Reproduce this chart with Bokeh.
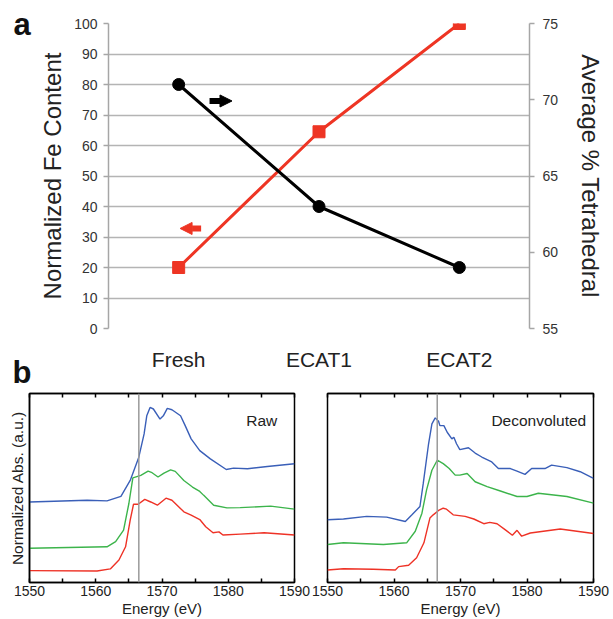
from bokeh.plotting import figure
from bokeh.models import Range1d, LinearAxis, FixedTicker, Label, Arrow, NormalHead, Span
from bokeh.layouts import column, row
from bokeh.embed import file_html
from bokeh.resources import INLINE

FONT = "Liberation Sans"

# ---------------- data: panel a ----------------
categories = ["Fresh", "ECAT1", "ECAT2"]
fe_content = [20, 64.5, 100]          # left axis, red squares
tetrahedral = [71, 63, 59]            # right axis, black circles
left_ticks = [0, 10, 20, 30, 40, 50, 60, 70, 80, 90, 100]
right_ticks = [55, 60, 65, 70, 75]

# ---------------- data: panel b (Raw) ----------------
raw_blue_e = [1550, 1558.7, 1561.7, 1563.8, 1565.2, 1566.5, 1567.3, 1567.7, 1568.2, 1568.7, 1569.7, 1570.2,
              1570.8, 1571.5, 1572.8, 1573.5, 1574.4, 1575.7, 1577.3, 1579.7, 1580.8, 1582.9, 1585.9, 1590]
raw_blue_v = [0.426, 0.435, 0.432, 0.456, 0.540, 0.663, 0.786, 0.882, 0.926, 0.918, 0.865, 0.882,
              0.921, 0.914, 0.882, 0.830, 0.760, 0.698, 0.654, 0.598, 0.605, 0.602, 0.614, 0.628]
raw_green_e = [1550, 1561.7, 1563.0, 1564.2, 1565.0, 1565.6, 1566.8, 1567.9, 1568.5, 1569.4, 1570.3,
               1571.3, 1572.0, 1573.3, 1574.6, 1575.7, 1576.3, 1577.8, 1579.8, 1581.8, 1586.4, 1590]
raw_green_v = [0.181, 0.189, 0.216, 0.277, 0.418, 0.554, 0.567, 0.589, 0.581, 0.558, 0.579,
               0.596, 0.588, 0.540, 0.505, 0.482, 0.461, 0.409, 0.395, 0.396, 0.404, 0.388]
raw_red_e = [1550, 1560.2, 1562.2, 1563.5, 1564.5, 1565.2, 1565.7, 1566.4, 1567.4, 1568.3, 1569.3, 1570.6,
             1571.5, 1573.3, 1574.4, 1575.7, 1576.6, 1577.7, 1578.6, 1579.2, 1581.8, 1585.4, 1590]
raw_red_v = [0.063, 0.061, 0.072, 0.119, 0.189, 0.330, 0.414, 0.414, 0.440, 0.426, 0.409, 0.446,
             0.435, 0.374, 0.356, 0.333, 0.295, 0.263, 0.268, 0.251, 0.256, 0.263, 0.251]

# ---------------- data: panel b (Deconvoluted) ----------------
dec_blue_e = [1550, 1552.4, 1555.9, 1558.9, 1561.7, 1562.7, 1563.9, 1564.4, 1565.2, 1565.7, 1566.2, 1566.7,
              1566.9, 1567.5, 1568.0, 1568.7, 1569.0, 1569.4, 1569.9, 1571.2, 1572.2, 1573.2, 1574.7, 1575.7,
              1577.5, 1578.5, 1579.7, 1580.7, 1582.7, 1583.7, 1586.0, 1588.0, 1590]
dec_blue_v = [0.332, 0.336, 0.350, 0.346, 0.323, 0.358, 0.402, 0.524, 0.734, 0.839, 0.871, 0.853,
              0.830, 0.830, 0.795, 0.760, 0.769, 0.734, 0.703, 0.713, 0.685, 0.664, 0.638, 0.603,
              0.603, 0.589, 0.572, 0.603, 0.603, 0.621, 0.608, 0.586, 0.551]
dec_green_e = [1550, 1552.4, 1558.4, 1561.9, 1563.2, 1564.2, 1564.9, 1565.7, 1566.5, 1567.4, 1568.3,
               1569.2, 1569.9, 1571.0, 1572.2, 1574.0, 1576.0, 1578.5, 1580.0, 1581.7, 1586.0, 1590]
dec_green_v = [0.201, 0.210, 0.201, 0.210, 0.271, 0.367, 0.490, 0.594, 0.647, 0.629, 0.603,
               0.568, 0.568, 0.577, 0.533, 0.507, 0.484, 0.455, 0.455, 0.472, 0.455, 0.420]
dec_red_e = [1550, 1552.4, 1556.9, 1560.2, 1560.7, 1562.2, 1563.4, 1564.5, 1565.4, 1565.9, 1566.7, 1567.4,
             1567.9, 1568.9, 1570.7, 1572.0, 1573.5, 1574.4, 1575.5, 1576.7, 1577.8, 1578.5, 1579.2,
             1580.5, 1585.0, 1590]
dec_red_v = [0.066, 0.073, 0.070, 0.066, 0.084, 0.091, 0.131, 0.210, 0.341, 0.358, 0.381, 0.393,
             0.388, 0.358, 0.350, 0.336, 0.311, 0.318, 0.311, 0.280, 0.250, 0.276, 0.245,
             0.262, 0.283, 0.259]

energy_ticks = [1550, 1560, 1570, 1580, 1590]
energy_minor = [1555, 1565, 1575, 1585]
edge_energy = 1566.5

RED = "#ee3524"
GRID = "#b4b4b4"
AXIS = "#a6a6a6"


def panel_letter(text, cx, cy, sx, sy):
    kw = dict(text=text, text_font=FONT, text_font_size="31px", text_font_style="bold",
              text_color="#111111", text_baseline="alphabetic")
    try:
        return Label(x=cx, y=cy, x_units="canvas", y_units="canvas", **kw)
    except Exception:
        return Label(x=sx, y=sy, x_units="screen", y_units="screen", **kw)


# ================= panel a (canvas also hosts the "b" letter below it) =================
xs = [i + 0.5 for i in range(len(categories))]
pa = figure(width=613, height=390, x_range=Range1d(0, 3), y_range=Range1d(0, 100),
            output_backend="svg", toolbar_location=None,
            min_border_left=105, min_border_right=84, min_border_top=23, min_border_bottom=62)
pa.extra_y_ranges = {"tet": Range1d(55, 75)}
pa.outline_line_color = None
pa.xgrid.visible = False
pa.ygrid.ticker = FixedTicker(ticks=left_ticks)
pa.ygrid.grid_line_color = GRID
pa.ygrid.grid_line_width = 1.4

xa = pa.xaxis[0]
xa.ticker = FixedTicker(ticks=xs)
xa.major_label_overrides = {x: c for x, c in zip(xs, categories)}
xa.axis_line_color = None
xa.major_tick_line_color = None
xa.minor_tick_line_color = None
xa.major_label_text_font = FONT
xa.major_label_text_font_size = "21px"
xa.major_label_text_color = "#222222"
xa.major_label_standoff = 13

ya = pa.yaxis[0]
ya.ticker = FixedTicker(ticks=left_ticks)
ya.axis_line_color = AXIS
ya.axis_line_width = 1.5
ya.major_tick_line_color = AXIS
ya.major_tick_line_width = 1.5
ya.major_tick_out = 5
ya.major_tick_in = 0
ya.minor_tick_line_color = None
ya.major_label_text_font = FONT
ya.major_label_text_font_size = "14px"
ya.major_label_text_color = "#333333"
ya.major_label_standoff = 6
ya.axis_label = "Normalized Fe Content"
ya.axis_label_text_font = FONT
ya.axis_label_text_font_style = "normal"
ya.axis_label_text_font_size = "24px"
ya.axis_label_text_color = "#222222"
ya.axis_label_standoff = 5

yr = LinearAxis(y_range_name="tet", ticker=FixedTicker(ticks=right_ticks))
yr.axis_line_color = AXIS
yr.axis_line_width = 1.5
yr.major_tick_line_color = AXIS
yr.major_tick_line_width = 1.5
yr.major_tick_out = 5
yr.major_tick_in = 0
yr.minor_tick_line_color = None
yr.major_label_text_font = FONT
yr.major_label_text_font_size = "14px"
yr.major_label_text_color = "#333333"
yr.major_label_standoff = 8
yr.axis_label = "Average % Tetrahedral"
yr.axis_label_text_font = FONT
yr.axis_label_text_font_style = "normal"
yr.axis_label_text_font_size = "24px"
yr.axis_label_text_color = "#222222"
yr.axis_label_standoff = 16
pa.add_layout(yr, "right")

pa.line(xs, fe_content, line_color=RED, line_width=3)
pa.line(xs, tetrahedral, y_range_name="tet", line_color="black", line_width=3)
pa.scatter(xs, fe_content, marker="square", size=12, fill_color=RED, line_color=RED)
pa.scatter(xs, tetrahedral, y_range_name="tet", marker="circle", size=12,
           fill_color="black", line_color="black")

pa.add_layout(Arrow(end=NormalHead(size=12, fill_color="black", line_color="black", line_width=1),
                    x_start=0.72, y_start=74.6, x_end=0.88, y_end=74.6,
                    line_color="black", line_width=6))
pa.add_layout(Arrow(end=NormalHead(size=12, fill_color=RED, line_color=RED, line_width=1),
                    x_start=0.66, y_start=32.8, x_end=0.51, y_end=32.8,
                    line_color=RED, line_width=6))

# panel letters live in a side panel so they are not clipped to the frame
pa.add_layout(panel_letter("a", 13, 24, -92, 304), "left")
pa.add_layout(panel_letter("b", 12, 372, -93, -44), "left")


# ================= panel b =================
def spectrum_panel(width, left_border, right_border, curves, tag, tag_x, with_ylabel):
    p = figure(width=width, height=229, x_range=Range1d(1550, 1590), y_range=Range1d(0, 1),
               output_backend="svg", toolbar_location=None,
               min_border_left=left_border, min_border_right=right_border,
               min_border_top=3, min_border_bottom=36)
    p.grid.visible = False
    p.outline_line_color = "black"
    p.outline_line_width = 1.5
    xa = p.xaxis[0]
    xa.ticker = FixedTicker(ticks=energy_ticks, minor_ticks=energy_minor)
    xa.axis_line_color = "black"
    xa.axis_line_width = 1.5
    xa.major_tick_in = 4
    xa.major_tick_out = 0
    xa.minor_tick_in = 4
    xa.minor_tick_out = 0
    xa.major_tick_line_color = "black"
    xa.minor_tick_line_color = "black"
    xa.major_tick_line_width = 1.5
    xa.minor_tick_line_width = 1.5
    xa.major_label_text_font = FONT
    xa.major_label_text_font_size = "14px"
    xa.major_label_text_color = "#222222"
    xa.major_label_standoff = 3
    xa.axis_label = "Energy (eV)"
    xa.axis_label_text_font = FONT
    xa.axis_label_text_font_style = "normal"
    xa.axis_label_text_font_size = "15px"
    xa.axis_label_text_color = "#222222"
    xa.axis_label_standoff = 1

    top = LinearAxis(ticker=FixedTicker(ticks=energy_ticks, minor_ticks=energy_minor))
    top.axis_line_color = "black"
    top.axis_line_width = 1.5
    top.major_tick_in = 4
    top.major_tick_out = 0
    top.minor_tick_in = 4
    top.minor_tick_out = 0
    top.major_tick_line_color = "black"
    top.minor_tick_line_color = "black"
    top.major_tick_line_width = 1.5
    top.minor_tick_line_width = 1.5
    top.major_label_text_font_size = "0px"
    top.major_label_text_alpha = 0
    top.major_label_standoff = 0
    p.add_layout(top, "above")

    ya = p.yaxis[0]
    if with_ylabel:
        ya.ticker = FixedTicker(ticks=[])
        ya.axis_line_color = "black"
        ya.axis_line_width = 1.5
        ya.major_tick_line_color = None
        ya.minor_tick_line_color = None
        ya.axis_label = "Normalized Abs. (a.u.)"
        ya.axis_label_text_font = FONT
        ya.axis_label_text_font_style = "normal"
        ya.axis_label_text_font_size = "15.5px"
        ya.axis_label_text_color = "#222222"
        ya.axis_label_standoff = 4
    else:
        ya.visible = False

    p.add_layout(Span(location=edge_energy, dimension="height", line_color="#9a9a9a", line_width=1.5))
    for (e, v, c) in curves:
        p.line(e, v, line_color=c, line_width=1.4)

    p.add_layout(Label(x=tag_x, y=0.855, text=tag, text_font=FONT, text_font_size="15.5px",
                       text_color="#222222", text_align="right", text_baseline="alphabetic"))
    return p


BLUE = "#3a5fb8"
GREEN = "#3cb44b"
RED2 = "#ee3226"

pb1 = spectrum_panel(311, 29, 17,
                     [(raw_blue_e, raw_blue_v, BLUE), (raw_green_e, raw_green_v, GREEN),
                      (raw_red_e, raw_red_v, RED2)],
                     "Raw", 1587.4, True)
pb2 = spectrum_panel(302, 16, 20,
                     [(dec_blue_e, dec_blue_v, BLUE), (dec_green_e, dec_green_v, GREEN),
                      (dec_red_e, dec_red_v, RED2)],
                     "Deconvoluted", 1588.9, False)

layout = column(pa, row(pb1, pb2, spacing=0), spacing=0)

open("out.html", "w").write(file_html(layout, INLINE))
